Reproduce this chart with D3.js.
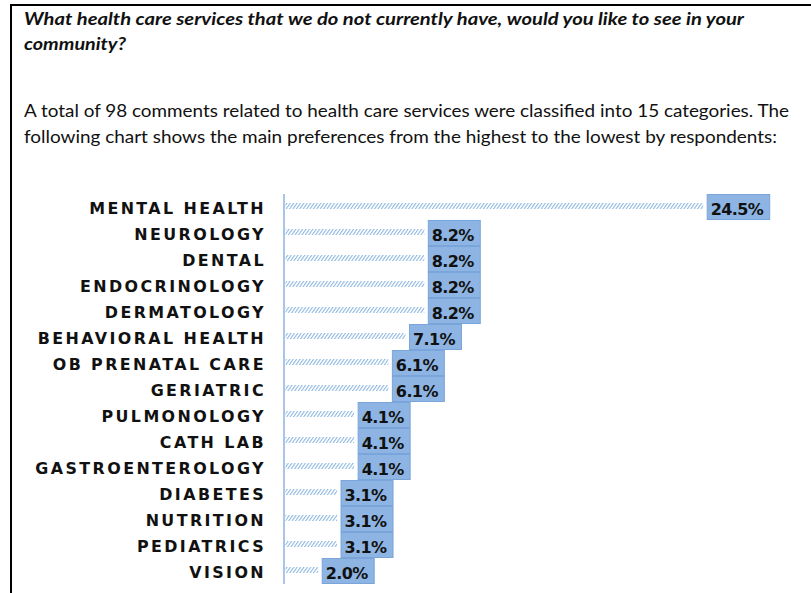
<!DOCTYPE html>
<html>
<head>
<meta charset="utf-8">
<script src="https://cdn.jsdelivr.net/npm/d3@7"></script>
<style>
  html, body { margin: 0; padding: 0; background: #fff; }
  svg { display: block; }
</style>
</head>
<body>
<svg id="chart" width="811" height="593"></svg>
<script>
// Survey categories, highest to lowest
const categories = [
  "MENTAL HEALTH", "NEUROLOGY", "DENTAL", "ENDOCRINOLOGY", "DERMATOLOGY",
  "BEHAVIORAL HEALTH", "OB PRENATAL CARE", "GERIATRIC", "PULMONOLOGY",
  "CATH LAB", "GASTROENTEROLOGY", "DIABETES", "NUTRITION", "PEDIATRICS", "VISION"
];
// Share of comments per category (%)
const values = [24.5, 8.2, 8.2, 8.2, 8.2, 7.1, 6.1, 6.1, 4.1, 4.1, 4.1, 3.1, 3.1, 3.1, 2.0];

const titleLines = [
  "What health care services that we do not currently have, would you like to see in your",
  "community?"
];
const introLines = [
  "A total of 98 comments related to health care services were classified into 15 categories.  The",
  "following chart shows the main preferences from the highest to the lowest by respondents:"
];

const svg = d3.select("#chart");

// Page frame (top and left rules)
svg.append("rect").attr("x", 10).attr("y", 4).attr("width", 801).attr("height", 2).attr("fill", "#000");
svg.append("rect").attr("x", 10).attr("y", 4).attr("width", 2).attr("height", 589).attr("fill", "#000");

// Heading
const titleWidths = [720, 102];
titleLines.forEach((t, i) => {
  svg.append("text")
    .attr("x", 24).attr("y", 25 + i * 25)
    .attr("font-family", "Lato, 'Open Sans', sans-serif")
    .attr("font-weight", "bold").attr("font-style", "italic")
    .attr("font-size", 16.5).attr("fill", "#111")
    .attr("textLength", titleWidths[i]).attr("lengthAdjust", "spacingAndGlyphs")
    .text(t);
});

// Intro paragraph
const introWidths = [765, 753];
introLines.forEach((t, i) => {
  svg.append("text")
    .attr("x", 24).attr("y", 117 + i * 25.5)
    .attr("font-family", "Lato, 'Open Sans', sans-serif")
    .attr("font-size", 16.5).attr("fill", "#111")
    .attr("textLength", introWidths[i]).attr("lengthAdjust", "spacingAndGlyphs")
    .text(t);
});

// Chart geometry
const axisX = 284;
const x = d3.scaleLinear().domain([0, 25]).range([axisX, axisX + 25 * 17.11]);
const y = d3.scaleBand().domain(categories).range([194, 194 + 26 * categories.length]).padding(0);

// Hatch fill for the bars
const defs = svg.append("defs");
const pat = defs.append("pattern")
  .attr("id", "hatch")
  .attr("patternUnits", "userSpaceOnUse")
  .attr("width", 3.4).attr("height", 6)
  .attr("patternTransform", "skewX(-35)");
pat.append("rect").attr("x", 0).attr("y", 0).attr("width", 1.3).attr("height", 6).attr("fill", "#8fb8e3");

const rows = svg.append("g").selectAll("g")
  .data(categories.map((c, i) => ({ c, v: values[i] })))
  .join("g");

// Category labels
rows.append("text")
  .attr("x", 266)
  .attr("y", d => y(d.c) + y.bandwidth() / 2 + 7)
  .attr("text-anchor", "end")
  .attr("font-family", "'DejaVu Sans', sans-serif")
  .attr("font-weight", "bold")
  .attr("font-size", 15.9)
  .attr("letter-spacing", 2.4)
  .attr("fill", "#111")
  .text(d => d.c);

// Hatched bars
rows.append("rect")
  .attr("x", axisX + 1.5)
  .attr("y", d => y(d.c) + 9)
  .attr("width", d => x(d.v) - axisX - 1.5)
  .attr("height", 6)
  .attr("fill", "url(#hatch)");

// Value boxes with labels
rows.each(function(d) {
  const g = d3.select(this);
  const bx = x(d.v) + 4;
  const box = g.append("rect")
    .attr("x", bx).attr("y", y(d.c) + 0.5)
    .attr("height", y.bandwidth() - 1)
    .attr("fill", "#8db4e2")
    .attr("stroke", "#79a5da").attr("stroke-width", 1);
  const t = g.append("text")
    .attr("x", bx + 3.5)
    .attr("y", y(d.c) + y.bandwidth() / 2 + 7.5)
    .attr("font-family", "'DejaVu Sans', sans-serif")
    .attr("font-weight", "bold")
    .attr("font-size", 16)
    .attr("letter-spacing", -0.6)
    .attr("fill", "#111")
    .text(d.v.toFixed(1) + "%");
  const w = t.node().getComputedTextLength();
  box.attr("width", w + 10);
});

// Vertical axis rule
svg.append("line")
  .attr("x1", axisX).attr("x2", axisX)
  .attr("y1", y.range()[0]).attr("y2", y.range()[1])
  .attr("stroke", "#a9c6e8").attr("stroke-width", 2);
</script>
</body>
</html>
